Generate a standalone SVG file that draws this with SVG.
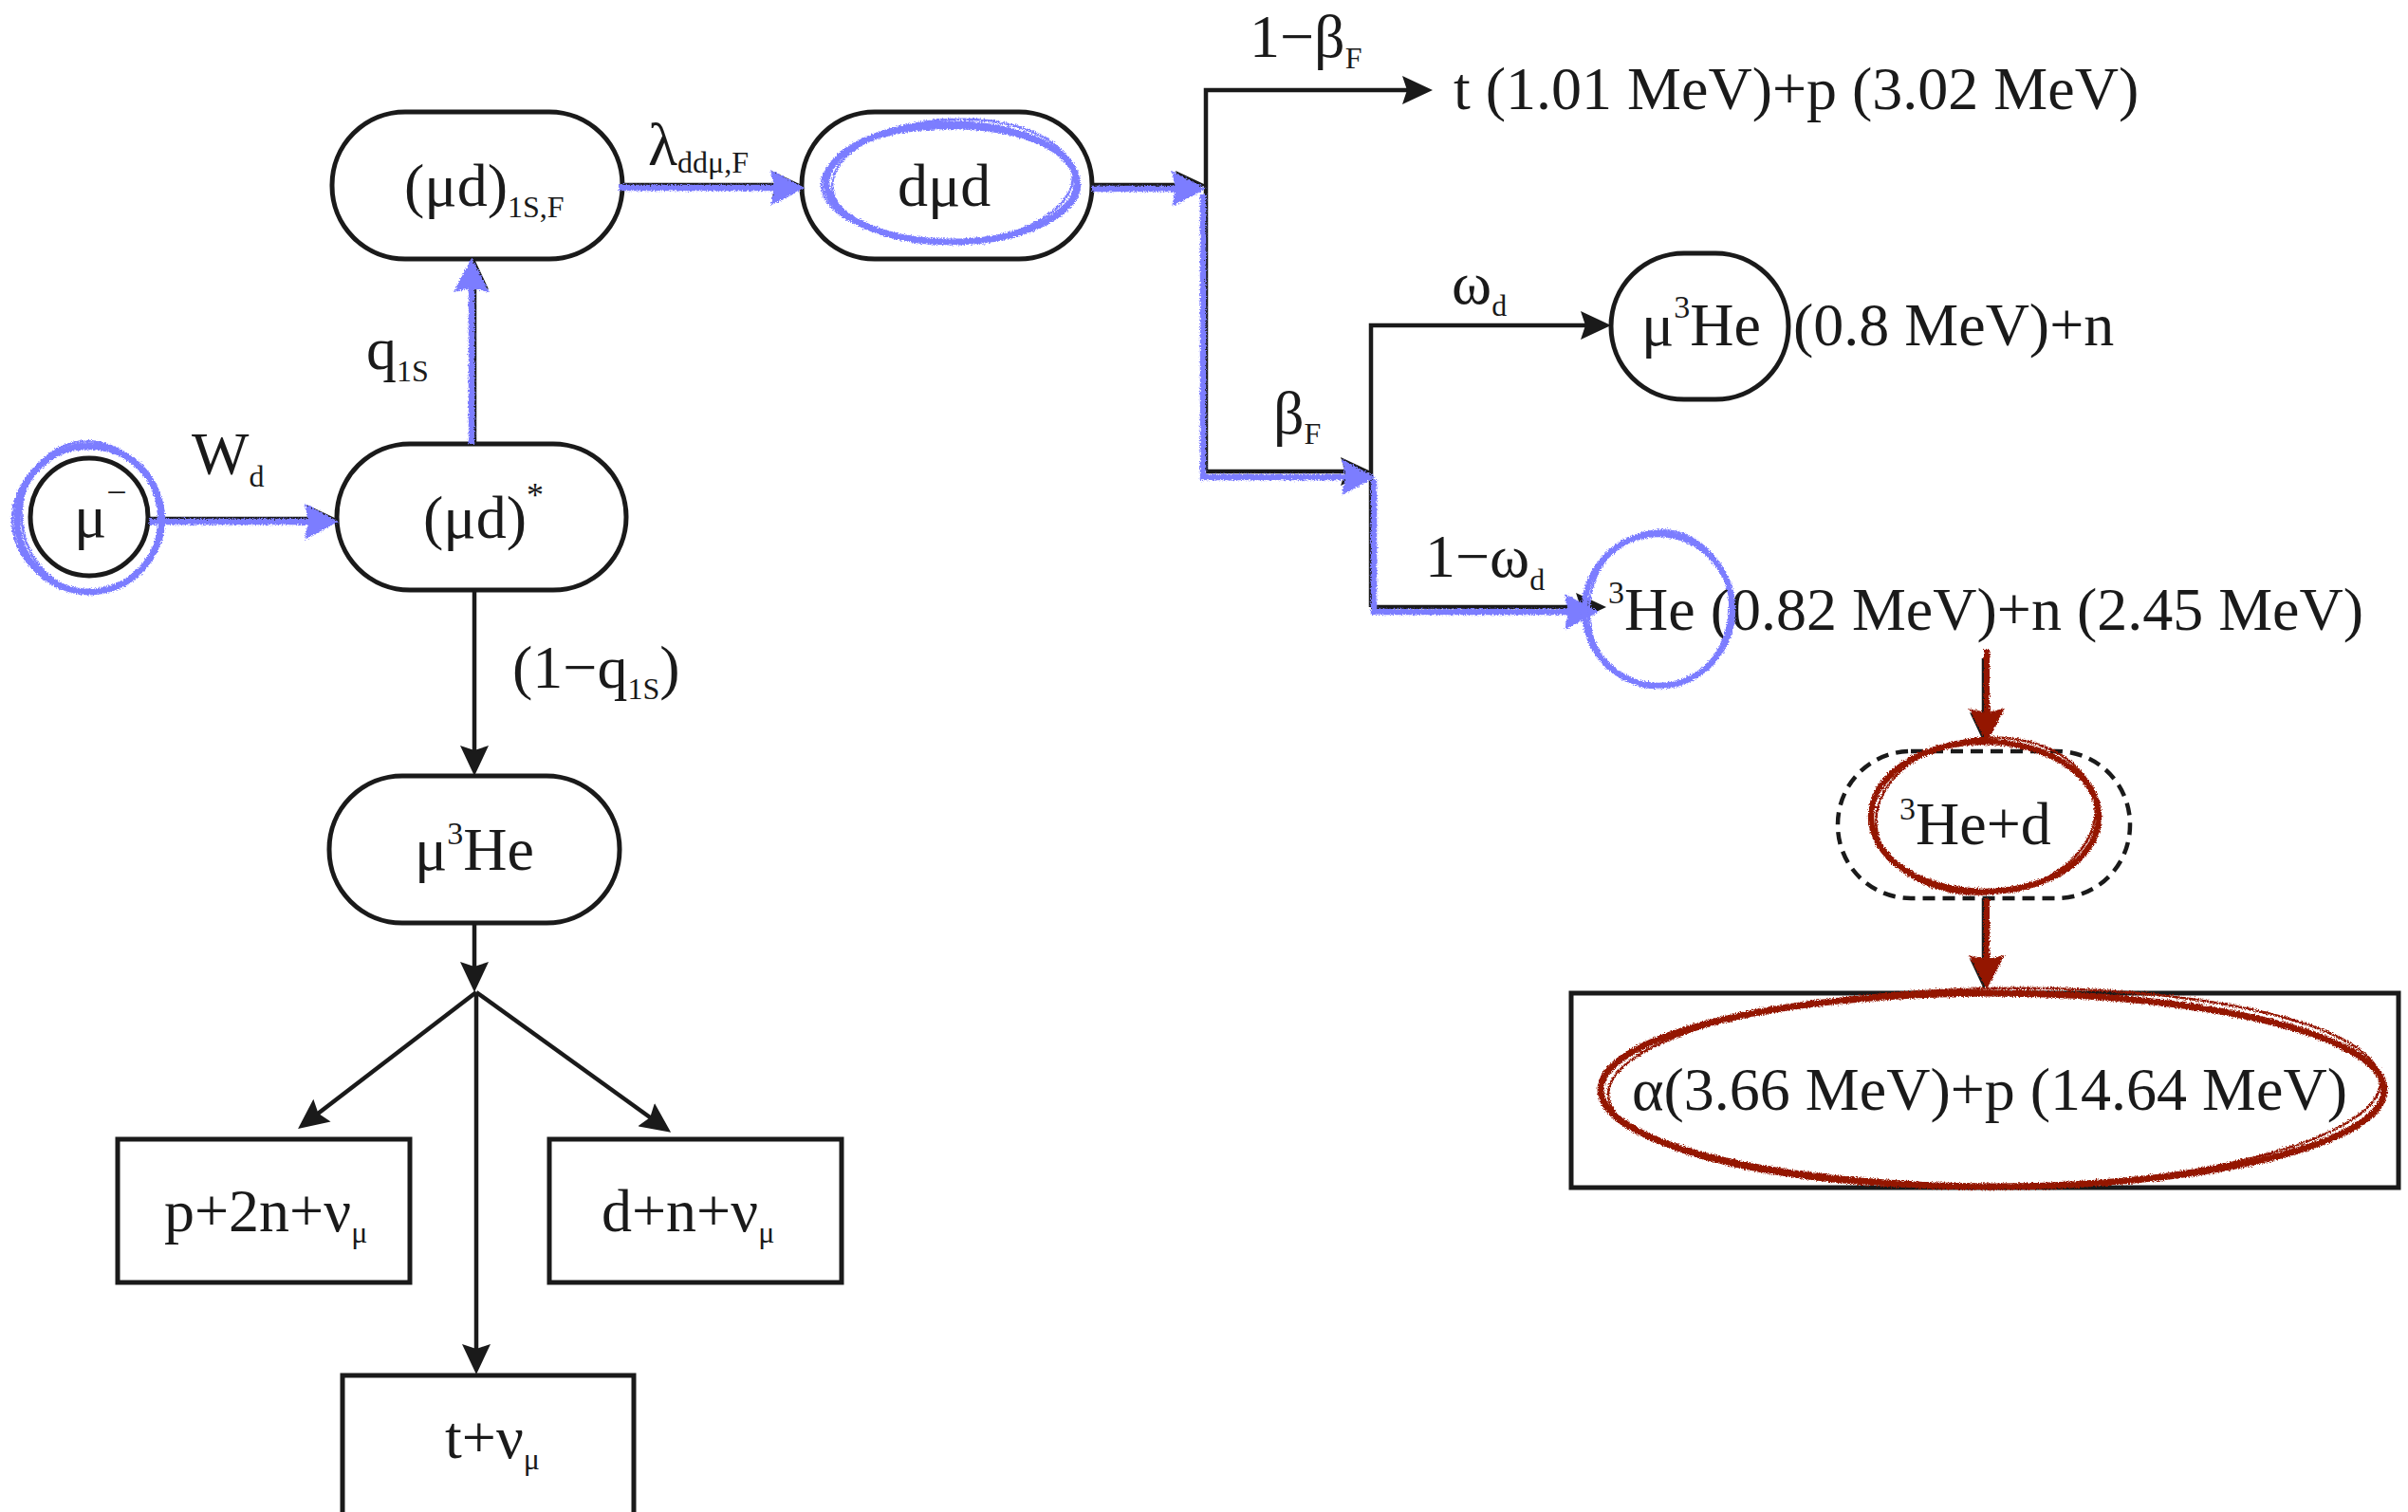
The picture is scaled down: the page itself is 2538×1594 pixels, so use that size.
<svg xmlns="http://www.w3.org/2000/svg" width="2538" height="1594" viewBox="0 0 2538 1594">
  <defs>
    <style>
      .node{fill:#fff;stroke:#1a1a1a;stroke-width:5}
      .box{fill:none;stroke:#1a1a1a;stroke-width:5}
      .dash{fill:none;stroke:#1a1a1a;stroke-width:4.5;stroke-dasharray:13 8}
      .edge{fill:none;stroke:#1a1a1a;stroke-width:4.5;marker-end:url(#ah)}
      .t{font-family:"Liberation Serif","Times New Roman",serif;font-size:64px;fill:#1a1a1a}
      .sub{font-size:32px}
      .sup{font-size:34px}
      .hb{fill:none;stroke:#7b7dff}
      .hb-edge{fill:none;stroke:#7b7dff;stroke-width:6.5;marker-end:url(#ahB)}
      .hr{fill:none;stroke:#941705}
      .hr-edge{fill:none;stroke:#941705;stroke-width:6;marker-end:url(#ahR)}
    </style>
    <marker id="ah" viewBox="0 0 32 30" refX="22" refY="15" markerWidth="32" markerHeight="30" markerUnits="userSpaceOnUse" orient="auto">
      <path d="M0,0 L32,15 L0,30 L5,15 Z" fill="#1a1a1a"/>
    </marker>
    <marker id="ahB" viewBox="0 0 36 38" refX="24" refY="19" markerWidth="36" markerHeight="38" markerUnits="userSpaceOnUse" orient="auto">
      <path d="M0,0 L36,19 L0,38 L4,19 Z" fill="#7b7dff"/>
    </marker>
    <marker id="ahR" viewBox="0 0 36 38" refX="24" refY="19" markerWidth="36" markerHeight="38" markerUnits="userSpaceOnUse" orient="auto">
      <path d="M0,0 L36,19 L0,38 L4,19 Z" fill="#941705"/>
    </marker>
    <!-- grainy hand-drawn edge for the highlighter strokes -->
    <filter id="rough" filterUnits="userSpaceOnUse" x="0" y="0" width="2538" height="1594">
      <feTurbulence type="fractalNoise" baseFrequency="0.75" numOctaves="2" seed="4" result="n"/>
      <feDisplacementMap in="SourceGraphic" in2="n" scale="5" xChannelSelector="R" yChannelSelector="G"/>
    </filter>
  </defs>

  <rect width="2538" height="1594" fill="#fff"/>

  <!-- nodes -->
  <g id="n-muon">
    <circle class="node" cx="94" cy="545" r="62"/>
    <text class="t" x="78" y="566">μ<tspan style="font-size:38px" dy="-34">−</tspan></text>
  </g>
  <g id="n-mud-excited">
    <rect class="node" x="355" y="468" width="305" height="154" rx="77"/>
    <text class="t" x="446" y="567">(μd)<tspan style="font-size:36px" dy="-33">*</tspan></text>
  </g>
  <g id="n-mud-1s">
    <rect class="node" x="350" y="118" width="306" height="155" rx="77"/>
    <text class="t" x="426" y="217">(μd)<tspan class="sub" dy="12">1S,F</tspan></text>
  </g>
  <g id="n-dmud">
    <rect class="node" x="845" y="118" width="306" height="155" rx="77"/>
    <text class="t" x="946" y="217">dμd</text>
  </g>
  <g id="n-t-p">
    <text class="t" x="1532" y="115">t (1.01 MeV)+p (3.02 MeV)</text>
  </g>
  <g id="n-mu3he-right">
    <rect class="node" x="1698" y="267" width="187" height="154" rx="77"/>
    <text class="t" x="1730" y="364">μ<tspan class="sup" dy="-29">3</tspan><tspan dy="29">He</tspan></text>
    <text class="t" x="1890" y="364">(0.8 MeV)+n</text>
  </g>
  <g id="n-3he-n">
    <text class="t" x="1695" y="664"><tspan class="sup" dy="-28">3</tspan><tspan dy="28">He (0.82 MeV)+n (2.45 MeV)</tspan></text>
  </g>
  <g id="n-3he-d">
    <rect class="dash" x="1937" y="792" width="308" height="155" rx="77"/>
    <text class="t" x="2002" y="890"><tspan class="sup" dy="-26">3</tspan><tspan dy="26">He+d</tspan></text>
  </g>
  <g id="n-alpha-p">
    <rect class="box" x="1656" y="1047" width="872" height="205"/>
    <text class="t" x="1720" y="1170">α(3.66 MeV)+p (14.64 MeV)</text>
  </g>
  <g id="n-mu3he-left">
    <rect class="node" x="347" y="818" width="306" height="155" rx="77"/>
    <text class="t" x="437" y="917">μ<tspan class="sup" dy="-27">3</tspan><tspan dy="27">He</tspan></text>
  </g>
  <g id="n-p2n">
    <rect class="box" x="124" y="1201" width="308" height="151"/>
    <text class="t" x="173" y="1298">p+2n+ν<tspan class="sub" dy="12">μ</tspan></text>
  </g>
  <g id="n-dn">
    <rect class="box" x="579" y="1201" width="308" height="151"/>
    <text class="t" x="634" y="1298">d+n+ν<tspan class="sub" dy="12">μ</tspan></text>
  </g>
  <g id="n-t">
    <rect class="box" x="361" y="1450" width="307" height="160"/>
    <text class="t" x="469" y="1537">t+ν<tspan class="sub" dy="12">μ</tspan></text>
  </g>

  <!-- connectors and their rate labels -->
  <g id="connectors">
    <path class="edge" d="M157,547 H345"/>
    <path class="edge" d="M500,468 V283"/>
    <path class="edge" d="M656,195 H835"/>
    <path class="edge" d="M1151,195 H1261"/>
    <path class="edge" d="M1271,497 V95 H1500"/>
    <path class="edge" d="M1271,497 H1435"/>
    <path class="edge" d="M1445,640 V343 H1688"/>
    <path class="edge" d="M1445,640 H1683"/>
    <path class="edge" d="M500,622 V808"/>
    <path class="edge" d="M500,973 V1036"/>
    <path class="edge" d="M502,1046 L322,1184"/>
    <path class="edge" d="M502,1046 L699,1188"/>
    <path class="edge" d="M502,1046 V1439"/>
    <path class="edge" d="M2091,694 V773"/>
    <path class="edge" d="M2091,947 V1033"/>

    <text class="t" x="202" y="500">W<tspan class="sub" dy="13">d</tspan></text>
    <text class="t" x="386" y="389">q<tspan class="sub" dy="13">1S</tspan></text>
    <text class="t" x="683" y="174">λ<tspan class="sub" dy="8">ddμ,F</tspan></text>
    <text class="t" x="1317" y="60">1−β<tspan class="sub" dy="12">F</tspan></text>
    <text class="t" x="1342" y="457">β<tspan class="sub" dy="11">F</tspan></text>
    <text class="t" x="1530" y="320">ω<tspan class="sub" dy="13">d</tspan></text>
    <text class="t" x="1502" y="608">1−ω<tspan class="sub" dy="14">d</tspan></text>
    <text class="t" x="540" y="725">(1−q<tspan class="sub" dy="12">1S</tspan><tspan dy="-12">)</tspan></text>
  </g>

  <!-- blue highlighter: the muon-catalysed path -->
  <g id="highlight-blue" filter="url(#rough)">
    <ellipse class="hb" cx="94" cy="547" rx="76" ry="77" stroke-width="7"/>
    <ellipse class="hb" cx="95" cy="545" rx="72" ry="80" stroke-width="2.5" transform="rotate(-12 95 545)"/>
    <ellipse class="hb" cx="93" cy="548" rx="80" ry="75" stroke-width="2.5"/>
    <path class="hb-edge" d="M157,550 H345"/>
    <path class="hb-edge" d="M497,468 V284"/>
    <path class="hb-edge" d="M652,198 H836"/>
    <ellipse class="hb" cx="1003" cy="193" rx="132" ry="62" stroke-width="7"/>
    <ellipse class="hb" cx="1004" cy="191" rx="127" ry="65" stroke-width="2.5" transform="rotate(-3 1004 191)"/>
    <ellipse class="hb" cx="1002" cy="195" rx="136" ry="60" stroke-width="2.5"/>
    <path class="hb-edge" d="M1151,199 H1259"/>
    <path class="hb-edge" d="M1268,205 V503 H1438"/>
    <path class="hb-edge" d="M1448,505 V645 H1673"/>
    <ellipse class="hb" cx="1748" cy="643" rx="78" ry="80" stroke-width="6.5"/>
    <ellipse class="hb" cx="1749" cy="642" rx="74" ry="83" stroke-width="2.5" transform="rotate(8 1749 642)"/>
  </g>

  <!-- red highlighter: the 3He + d fusion -->
  <g id="highlight-red" filter="url(#rough)">
    <path class="hr-edge" d="M2094,685 V771"/>
    <ellipse class="hr" cx="2092" cy="861" rx="120" ry="79" stroke-width="6.5"/>
    <ellipse class="hr" cx="2093" cy="860" rx="116" ry="82" stroke-width="2.5" transform="rotate(-6 2093 860)"/>
    <path class="hr-edge" d="M2094,947 V1031"/>
    <ellipse class="hr" cx="2100" cy="1149" rx="413" ry="102" stroke-width="7"/>
    <ellipse class="hr" cx="2102" cy="1147" rx="407" ry="105" stroke-width="2.5" transform="rotate(-1 2102 1147)"/>
  </g>
</svg>
